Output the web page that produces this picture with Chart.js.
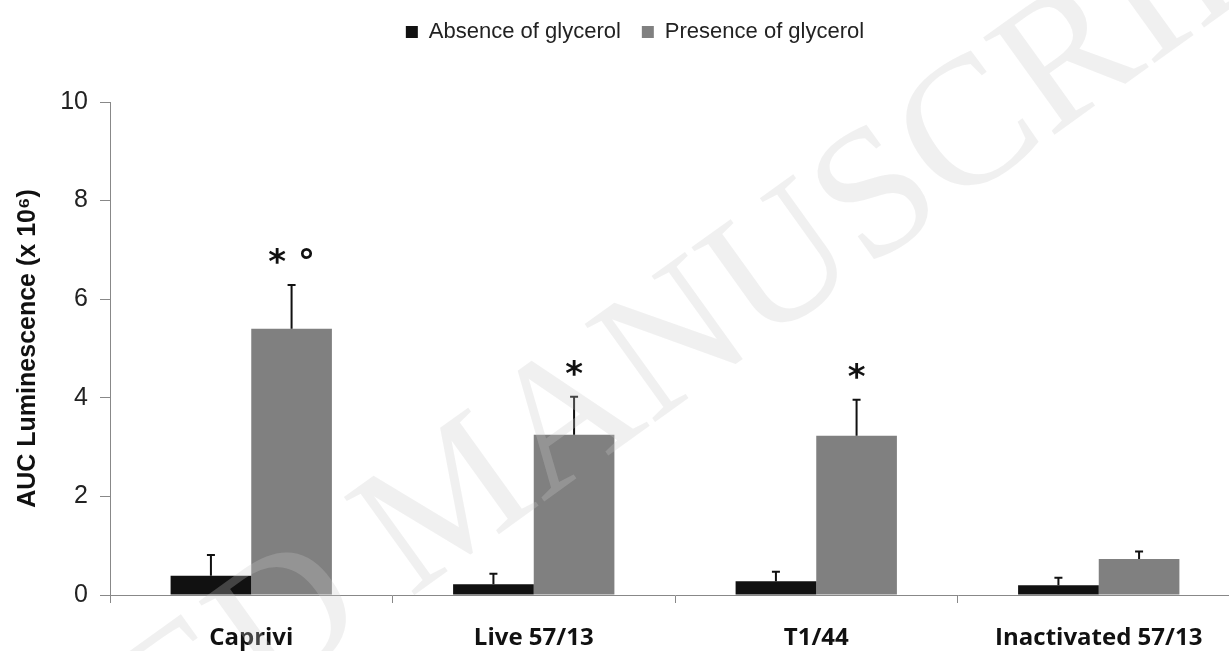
<!DOCTYPE html>
<html>
<head>
<meta charset="utf-8">
<script src="https://cdn.jsdelivr.net/npm/chart.js@4"></script>
<style>
html,body{margin:0;padding:0;background:#fff;overflow:hidden;}
#wrap{width:1240px;height:651px;}
</style>
</head>
<body>
<div id="wrap"><canvas id="c" width="1240" height="651"></canvas></div>
<script>
const categories = ["Caprivi", "Live 57/13", "T1/44", "Inactivated 57/13"];
const absenceValues = [0.39, 0.22, 0.28, 0.20];
const absenceErrors = [0.42, 0.21, 0.19, 0.15];
const presenceValues = [5.40, 3.25, 3.23, 0.73];
const presenceErrors = [0.89, 0.77, 0.73, 0.15];
const significance = ["* \u00b0", "*", "*", ""];
const yTicks = [0, 2, 4, 6, 8, 10];

const errorBarPlugin = {
  id: 'errorBars',
  afterDatasetsDraw(chart) {
    const ctx = chart.ctx;
    const y = chart.scales.y;
    chart.data.datasets.forEach((ds, i) => {
      const meta = chart.getDatasetMeta(i);
      meta.data.forEach((bar, j) => {
        const top = y.getPixelForValue(ds.data[j] + ds.errors[j]);
        ctx.save();
        ctx.strokeStyle = '#111';
        ctx.lineWidth = 2;
        ctx.beginPath();
        ctx.moveTo(bar.x, bar.y);
        ctx.lineTo(bar.x, top);
        ctx.moveTo(bar.x - 4, top);
        ctx.lineTo(bar.x + 4, top);
        ctx.stroke();
        ctx.restore();
        if (ds.marks && ds.marks[j]) {
          ctx.save();
          ctx.fillStyle = '#111';
          ctx.font = 'bold 34px "DejaVu Sans"';
          ctx.textAlign = 'center';
          ctx.textBaseline = 'alphabetic';
          ctx.fillText(ds.marks[j], bar.x, top - 12);
          ctx.restore();
        }
      });
    });
  }
};

const legendLayoutPlugin = {
  id: 'legendLayout',
  beforeUpdate(chart) {
    const legend = chart.legend;
    if (legend && !legend._patched) {
      const fit = legend.fit;
      legend.fit = function () { fit.call(this); this.height = 102; };
      legend._patched = true;
    }
  },
  afterLayout(chart) {
    const legend = chart.legend;
    if (legend) { legend.left += 15; legend.right += 15; }
  }
};

const watermarkPlugin = {
  id: 'watermark',
  afterDraw(chart) {
    const ctx = chart.ctx;
    ctx.save();
    ctx.translate(410, 598);
    ctx.rotate(-35.7 * Math.PI / 180);
    ctx.font = '184px "Liberation Serif"';
    ctx.fillStyle = 'rgba(200,200,200,0.28)';
    ctx.textBaseline = 'alphabetic';
    ctx.textAlign = 'right';
    ctx.fillText('ACCEPTED ', 0, 0);
    ctx.textAlign = 'left';
    ctx.fillText('MANUSCRIPT', 0, 0);
    ctx.restore();
  }
};

new Chart(document.getElementById('c'), {
  type: 'bar',
  data: {
    labels: categories,
    datasets: [
      { label: 'Absence of glycerol', data: absenceValues, errors: absenceErrors,
        backgroundColor: '#111111', borderWidth: 0 },
      { label: 'Presence of glycerol', data: presenceValues, errors: presenceErrors, marks: significance,
        backgroundColor: '#808080', borderWidth: 0 }
    ]
  },
  options: {
    responsive: false,
    animation: false,
    layout: { padding: { top: 0, left: 0, right: 0, bottom: 0 } },
    datasets: { bar: { categoryPercentage: 0.571, barPercentage: 1.0 } },
    plugins: {
      legend: {
        position: 'top',
        labels: {
          font: { family: '"Liberation Sans", Arial', size: 22 },
          color: '#222',
          boxWidth: 12, boxHeight: 12, padding: 21
        }
      },
      tooltip: { enabled: false }
    },
    scales: {
      x: {
        grid: { display: true, drawOnChartArea: false, drawTicks: true, tickLength: 8, color: '#888', offset: true },
        border: { display: true, color: '#888', width: 1 },
        ticks: { font: { family: '"Open Sans"', size: 24, weight: 'bold' }, color: '#111', padding: 21 },
        afterFit(s) { s.height = 56; }
      },
      y: {
        min: 0, max: 10,
        afterBuildTicks(s) { s.ticks = yTicks.map(v => ({ value: v })); },
        grid: { display: true, drawOnChartArea: false, drawTicks: true, tickLength: 10, color: '#888' },
        border: { display: true, color: '#888', width: 1 },
        ticks: { font: { family: '"Liberation Sans", Arial', size: 25 }, color: '#222', padding: 12 },
        title: { display: true, text: 'AUC Luminescence (x 10\u2076)', font: { family: '"Liberation Sans", Arial', size: 25, weight: 'bold' }, color: '#111', padding: { top: 13, bottom: 0 } },
        afterFit(s) { s.width = 110; }
      }
    }
  },
  plugins: [legendLayoutPlugin, errorBarPlugin, watermarkPlugin]
});
</script>
</body>
</html>
